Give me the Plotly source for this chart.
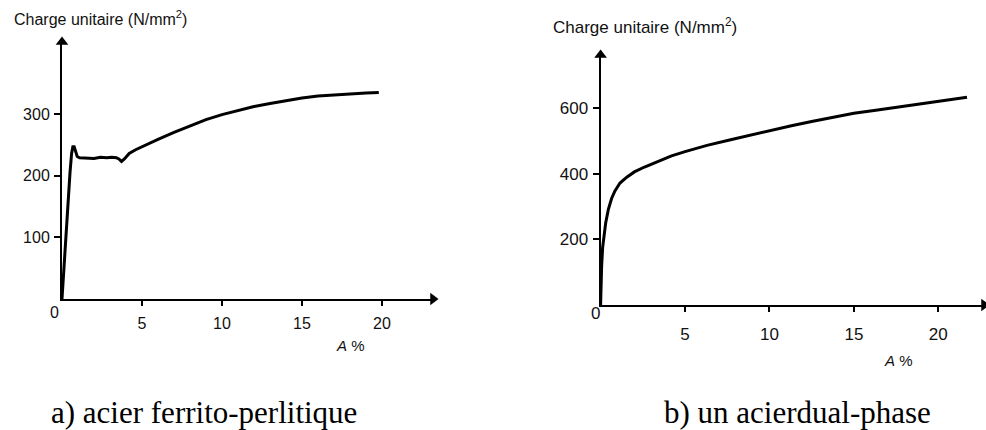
import plotly.graph_objects as go

# ---------------- data ----------------
# a) acier ferrito-perlitique : A % vs charge unitaire (N/mm2)
strain_a = [0, 0.1, 0.3, 0.5, 0.6, 0.68, 0.76, 0.86, 0.95, 1.1, 1.5, 2.0, 2.4, 2.8, 3.1, 3.4, 3.55, 3.72, 3.9,
            4.2, 4.6, 5, 6, 7, 8, 9, 10, 11, 12, 13, 14, 15, 16, 17, 18, 19, 19.8]
stress_a = [0, 45, 130, 205, 236, 247, 247, 239, 231, 229, 229, 228, 230, 229, 230, 229, 227, 223, 227,
            236, 242, 247, 259, 270, 281, 291, 299, 306, 312, 317, 322, 326, 329, 331, 333, 334, 335]

# b) un acier dual-phase
strain_b = [0, 0.03, 0.06, 0.12, 0.2, 0.3, 0.46, 0.65, 0.85, 1.15, 1.55, 2.0, 2.6, 3.5, 4.2, 5, 6.3, 7.7,
            9, 10.1, 11.3, 12.5, 13.8, 15, 16.3, 17.5, 18.8, 20, 21.7]
stress_b = [0, 70, 117, 175, 215, 250, 292, 325, 348, 372, 390, 406, 421, 440, 455, 468, 487, 504,
            520, 534, 547, 560, 573, 585, 594, 603, 612, 621, 634]

xticks = [5, 10, 15, 20]
yticks_a = [100, 200, 300]
yticks_b = [200, 400, 600]

ylabel = "Charge unitaire (N/mm<sup>2</sup>)"
xlabel = "<i>A</i> %"
caption_a = "a) acier ferrito-perlitique"
caption_b = "b) un acierdual-phase"

# ---------------- layout geometry (pixels) ----------------
W, H = 986, 430
La_x0, La_x1, La_xs = 62, 433, 16.0      # px origin, px end, px per unit
La_y0, La_y1, La_ys = 299, 42, 0.6167
Lb_x0, Lb_x1, Lb_xs = 600.6, 984, 16.885
Lb_y0, Lb_y1, Lb_ys = 305, 55, 0.3278

xa_max = (La_x1 - La_x0) / La_xs
ya_max = (La_y0 - La_y1) / La_ys
xb_max = (Lb_x1 - Lb_x0) / Lb_xs
yb_max = (Lb_y0 - Lb_y1) / Lb_ys

fig = go.Figure()
line = dict(color="black", width=3)
fig.add_trace(go.Scatter(x=strain_a, y=stress_a, mode="lines", line=line,
                         xaxis="x", yaxis="y", showlegend=False, hoverinfo="skip"))
fig.add_trace(go.Scatter(x=strain_b, y=stress_b, mode="lines", line=line,
                         xaxis="x2", yaxis="y2", showlegend=False, hoverinfo="skip"))

# arrow heads at the axis ends
for xr, yr, xm, ym in [("x", "y", xa_max, ya_max), ("x2", "y2", xb_max, yb_max)]:
    fig.add_trace(go.Scatter(x=[xm, 0], y=[0, ym], mode="markers", xaxis=xr, yaxis=yr,
                             marker=dict(symbol=["triangle-right", "triangle-up"], size=11,
                                         color="black", line=dict(width=0)),
                             cliponaxis=False, showlegend=False, hoverinfo="skip"))

tickfont = dict(family="Liberation Sans, Arial, sans-serif", size=16, color="#111")
tickfont_b = dict(family="Liberation Sans, Arial, sans-serif", size=17, color="#111")

common = dict(showgrid=False, zeroline=False, showline=True, linecolor="black", linewidth=2,
              ticks="outside", tickcolor="black", tickwidth=1.5, fixedrange=True)

fig.update_layout(
    width=W, height=H, margin=dict(l=0, r=0, t=0, b=0),
    paper_bgcolor="white", plot_bgcolor="white",
    xaxis=dict(domain=[La_x0 / W, La_x1 / W], range=[0, xa_max], anchor="y",
               tickvals=xticks, ticklen=5, ticklabelstandoff=4, tickfont=tickfont, **common),
    yaxis=dict(domain=[1 - La_y0 / H, 1 - La_y1 / H], range=[0, ya_max], anchor="x",
               tickvals=yticks_a, ticklen=6, ticklabelstandoff=1, tickfont=tickfont, **common),
    xaxis2=dict(domain=[Lb_x0 / W, Lb_x1 / W], range=[0, xb_max], anchor="y2",
                tickvals=xticks, ticklen=5, ticklabelstandoff=8, tickfont=tickfont_b, **common),
    yaxis2=dict(domain=[1 - Lb_y0 / H, 1 - Lb_y1 / H], range=[0, yb_max], anchor="x2",
                tickvals=yticks_b, ticklen=6, ticklabelstandoff=1, tickfont=tickfont_b, **common),
)

sans = "Liberation Sans, Arial, sans-serif"
serif = "Liberation Serif, Times New Roman, serif"
ann = []
# origin "0" labels
ann.append(dict(x=54 / W, y=1 - 312 / H, xref="paper", yref="paper", text="0", showarrow=False,
                xanchor="center", yanchor="middle", font=dict(family=sans, size=16, color="#111")))
ann.append(dict(x=595 / W, y=1 - 313 / H, xref="paper", yref="paper", text="0", showarrow=False,
                xanchor="center", yanchor="middle", font=dict(family=sans, size=17, color="#111")))
# y titles
ann.append(dict(x=12 / W, y=1 - 18 / H, xref="paper", yref="paper", text=ylabel, showarrow=False,
                xanchor="left", yanchor="middle", font=dict(family=sans, size=16, color="#111")))
ann.append(dict(x=551 / W, y=1 - 26 / H, xref="paper", yref="paper", text=ylabel, showarrow=False,
                xanchor="left", yanchor="middle", font=dict(family=sans, size=17, color="#111")))
# x titles
ann.append(dict(x=350 / W, y=1 - 345 / H, xref="paper", yref="paper", text=xlabel, showarrow=False,
                xanchor="center", yanchor="middle", font=dict(family=sans, size=15, color="#111")))
ann.append(dict(x=898 / W, y=1 - 360 / H, xref="paper", yref="paper", text=xlabel, showarrow=False,
                xanchor="center", yanchor="middle", font=dict(family=sans, size=15, color="#111")))
# captions
ann.append(dict(x=49 / W, y=1 - 412 / H, xref="paper", yref="paper", text=caption_a, showarrow=False,
                xanchor="left", yanchor="middle", font=dict(family=serif, size=31, color="black")))
ann.append(dict(x=662 / W, y=1 - 412 / H, xref="paper", yref="paper", text=caption_b, showarrow=False,
                xanchor="left", yanchor="middle", font=dict(family=serif, size=31, color="black")))

fig.update_layout(annotations=ann)
fig.write_html("out.html")
